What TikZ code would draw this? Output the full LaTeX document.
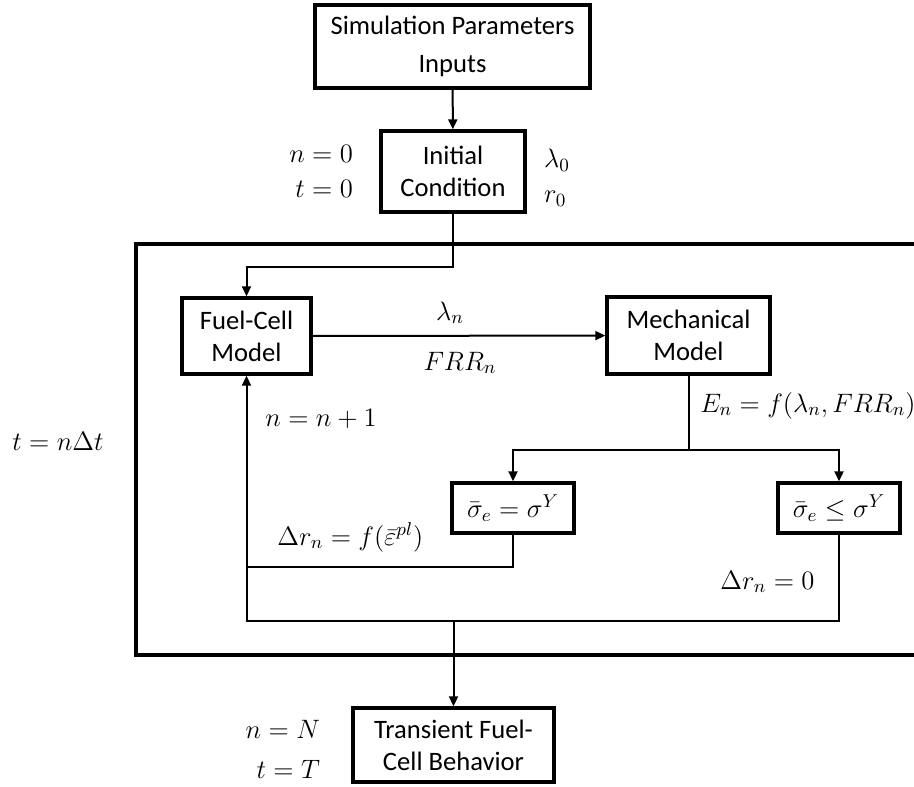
\RequirePackage{fix-cm}
\documentclass[tikz,border=0pt]{standalone}
\usepackage[no-math]{fontspec}
\setmainfont{Carlito}
\usetikzlibrary{arrows.meta,positioning}

\begin{document}
\begin{tikzpicture}[x=0.5pt,y=-0.5pt,font=\fontsize{13.3}{16}\selectfont]
        % Style Definitions
        \tikzstyle{block} = [rectangle, draw, line width=1.7pt, align=center, inner sep=0pt]
        \tikzstyle{lbl} = [inner sep=0pt, align=center]
        \tikzstyle{arr} = [-{Triangle[length=5pt,width=4.5pt]}, line width=1pt]
        \tikzstyle{wire} = [line width=1pt]
        \tikzstyle{frame} = [line width=2pt]

        \useasboundingbox (0,0) rectangle (914,786);

        % Nodes
        \node (params) [block, minimum width=137.5pt, minimum height=41.5pt] at (452.5,46.5) {Simulation Parameters\\[3pt] Inputs};
        \node (init) [block, minimum width=72pt, minimum height=40.5pt] at (453,171.5) {Initial\\ Condition};
        \node (fuel) [block, minimum width=64.5pt, minimum height=38pt] at (246.5,336) {Fuel-Cell\\ Model};
        \node (mech) [block, minimum width=81.5pt, minimum height=38.5pt] at (688.5,335.5) {Mechanical\\ Model};
        \node (sigeq) [block, minimum width=61pt, minimum height=25pt] at (513,508) {$\bar{\sigma}_e = \sigma^Y$};
        \node (sigle) [block, minimum width=61pt, minimum height=25pt] at (839,508) {$\bar{\sigma}_e \leq \sigma^Y$};
        \node (trans) [block, minimum width=100.5pt, minimum height=37pt] at (453.5,745) {Transient Fuel-\\ Cell Behavior};

        % Labels
        \node (start) [lbl, align=right, left=13pt of init] {$n = 0$\\[1.5pt] $t = 0$};
        \node (init0) [lbl, align=left, right=8.5pt of init, yshift=-3pt] {$\lambda_0$\\[1.5pt] $r_0$};
        \node (stop) [lbl, align=right, left=15.5pt of trans, yshift=-2pt] {$n = N$\\[4pt] $t = T$};
        \node (lamn) [lbl, anchor=base] at (450,320) {$\lambda_n$};
        \node (frrn) [lbl, anchor=base] at (460,370) {$FRR_n$};
        \node (young) [lbl, anchor=base west] at (700,412) {$E_n = f(\lambda_n, FRR_n)$};
        \node (step) [lbl, anchor=base west] at (265,426) {$n = n + 1$};
        \node (drpl) [lbl, anchor=base west] at (277,545) {$\Delta r_n = f(\bar{\varepsilon}^{pl})$};
        \node (drzero) [lbl, anchor=base west] at (720,589) {$\Delta r_n = 0$};
        \node (time) [lbl, anchor=base west] at (12,450) {$t = n\Delta t$};

        % Time loop frame
        \draw[frame] (916,244) -| (136,655) -- (916,655);

        % Arrows
        \coordinate (branch) at (688.5,450);
        \coordinate (join) at (246.5,567);
        \coordinate (loop) at (246.5,621);
        \draw[arr] (params) -- (init);
        \draw[arr] (init.south) -- ++(0,53) -| (fuel.north);
        \draw[arr] (fuel) -- (mech);
        \draw[wire] (mech.south) -- (branch);
        \draw[arr] (branch) -| (sigeq.north);
        \draw[arr] (branch) -| (sigle.north);
        \draw[wire] (sigeq.south) |- (join);
        \draw[arr] (sigle.south) |- (loop) -- (fuel.south);
        \draw[arr] (trans.north |- loop) -- (trans.north);

\end{tikzpicture}
\end{document}
